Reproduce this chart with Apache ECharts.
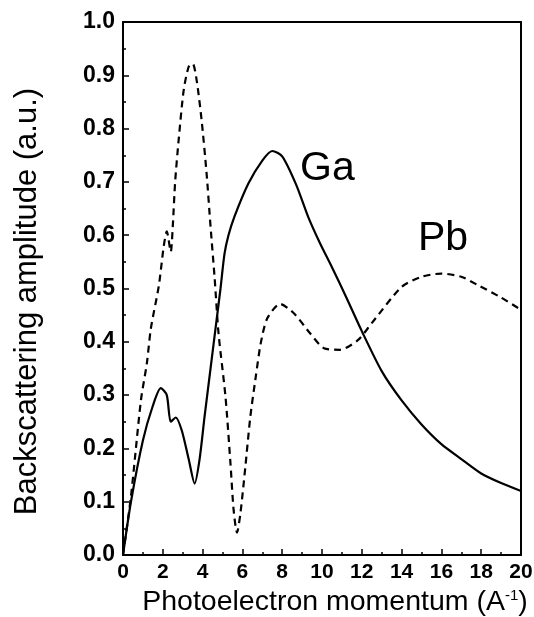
<!DOCTYPE html>
<html>
<head>
<meta charset="utf-8">
<script src="https://cdn.jsdelivr.net/npm/echarts@6/dist/echarts.min.js"></script>
<style>
html,body{margin:0;padding:0;background:#fff;}
#chart{width:534px;height:617px;}
</style>
</head>
<body>
<div id="chart"></div>
<script>
// Ga (solid) : [momentum, amplitude]
var gaK = [0, 0.4, 1.0, 1.5, 1.9, 2.2, 2.4, 2.65, 2.95, 3.3, 3.6, 3.85, 4.1, 4.4, 4.7, 4.9, 5.1, 5.3, 5.6, 6.3, 7.0, 7.5, 8.0, 8.7, 9.3, 9.9, 10.5, 11.2, 12.0, 13.0, 14, 15, 16, 17, 18, 19, 20];
var gaV = [0, 0.10, 0.215, 0.28, 0.313, 0.30, 0.25, 0.258, 0.234, 0.18, 0.134, 0.18, 0.26, 0.35, 0.44, 0.50, 0.565, 0.60, 0.635, 0.697, 0.74, 0.758, 0.748, 0.695, 0.635, 0.585, 0.54, 0.485, 0.42, 0.345, 0.29, 0.245, 0.208, 0.18, 0.153, 0.135, 0.12];
// Pb (dashed)
var pbK = [0, 0.4, 0.9, 1.2, 1.4, 1.8, 2.05, 2.2, 2.4, 2.5, 2.62, 2.8, 3.05, 3.3, 3.5, 3.7, 3.95, 4.2, 4.4, 4.6, 4.8, 5.15, 5.4, 5.56, 5.73, 5.9, 6.15, 6.4, 6.67, 6.92, 7.25, 7.9, 8.6, 9.4, 10.1, 10.9, 11.8, 12.5, 14, 15, 16, 17, 17.8, 19, 20];
var pbV = [0, 0.11, 0.29, 0.36, 0.425, 0.505, 0.58, 0.607, 0.569, 0.616, 0.70, 0.78, 0.872, 0.916, 0.922, 0.891, 0.816, 0.716, 0.616, 0.522, 0.416, 0.297, 0.172, 0.084, 0.042, 0.078, 0.166, 0.26, 0.334, 0.397, 0.444, 0.471, 0.453, 0.416, 0.388, 0.385, 0.403, 0.435, 0.503, 0.522, 0.528, 0.522, 0.507, 0.483, 0.46];
var xTicks = [0, 2, 4, 6, 8, 10, 12, 14, 16, 18, 20];
var yTicks = [0.0, 0.1, 0.2, 0.3, 0.4, 0.5, 0.6, 0.7, 0.8, 0.9, 1.0];

function pairs(k, v) { return k.map(function (x, i) { return [x, v[i]]; }); }

var FONT = 'Liberation Sans, Arial, sans-serif';
var chart = echarts.init(document.getElementById('chart'), null, {renderer: 'canvas'});
chart.setOption({
  animation: false,
  backgroundColor: '#fff',
  grid: {left: 123, right: 13, top: 22, bottom: 62, containLabel: false, outerBoundsMode: 'none'},
  xAxis: [{
    type: 'value', min: xTicks[0], max: xTicks[xTicks.length - 1], interval: 2,
    position: 'bottom',
    axisLine: {show: true, lineStyle: {color: '#000', width: 2}},
    axisTick: {show: true, inside: true, length: 6, lineStyle: {color: '#000', width: 1.5}},
    minorTick: {show: true, splitNumber: 2, length: 3, lineStyle: {color: '#000', width: 1.5}},
    splitLine: {show: false},
    axisLabel: {color: '#000', fontSize: 21, fontFamily: FONT, fontWeight: 'bold', margin: 7},
    name: 'Photoelectron momentum (A{sup|-1})',
    nameLocation: 'middle', nameGap: 33,
    nameTextStyle: {color: '#000', fontSize: 28.5, fontFamily: FONT, padding: [0, 0, 0, 26],
      rich: {sup: {fontSize: 15, fontFamily: FONT, color: '#000', verticalAlign: 'top', padding: [0, 0, 14, 0]}}}
  }, {
    type: 'value', min: 0, max: 20, position: 'top',
    axisLine: {show: true, onZero: false, lineStyle: {color: '#000', width: 2}},
    axisTick: {show: false}, axisLabel: {show: false}, splitLine: {show: false}
  }],
  yAxis: [{
    type: 'value', min: yTicks[0], max: yTicks[yTicks.length - 1], interval: 0.1,
    position: 'left',
    axisLine: {show: true, lineStyle: {color: '#000', width: 2}},
    axisTick: {show: true, inside: true, length: 6, lineStyle: {color: '#000', width: 1.5}},
    minorTick: {show: true, splitNumber: 2, length: 3, lineStyle: {color: '#000', width: 1.5}},
    splitLine: {show: false},
    axisLabel: {color: '#000', fontSize: 23, fontFamily: FONT, fontWeight: 'bold', margin: 8,
      formatter: function (v) { return v.toFixed(1); }},
    name: 'Backscattering amplitude (a.u.)',
    nameLocation: 'middle', nameGap: 80,
    nameTextStyle: {color: '#000', fontSize: 31, fontFamily: FONT, padding: [0, 26, 0, 0]}
  }, {
    type: 'value', min: 0, max: 1, position: 'right',
    axisLine: {show: true, onZero: false, lineStyle: {color: '#000', width: 2}},
    axisTick: {show: false}, axisLabel: {show: false}, splitLine: {show: false}
  }],
  series: [{
    name: 'Ga', type: 'line', xAxisIndex: 0, yAxisIndex: 0,
    data: pairs(gaK, gaV), smooth: 0.25, showSymbol: false,
    lineStyle: {color: '#000', width: 2.2}
  }, {
    name: 'Pb', type: 'line', xAxisIndex: 0, yAxisIndex: 0,
    data: pairs(pbK, pbV), smooth: 0.25, showSymbol: false,
    lineStyle: {color: '#000', width: 2.2, type: [7, 5]}
  }],
  graphic: [
    {type: 'text', x: 300, y: 169, style: {text: 'Ga', fontSize: 41, fontFamily: FONT, fill: '#000', textVerticalAlign: 'middle'}},
    {type: 'text', x: 418, y: 239, style: {text: 'Pb', fontSize: 41, fontFamily: FONT, fill: '#000', textVerticalAlign: 'middle'}}
  ]
});
</script>
</body>
</html>
